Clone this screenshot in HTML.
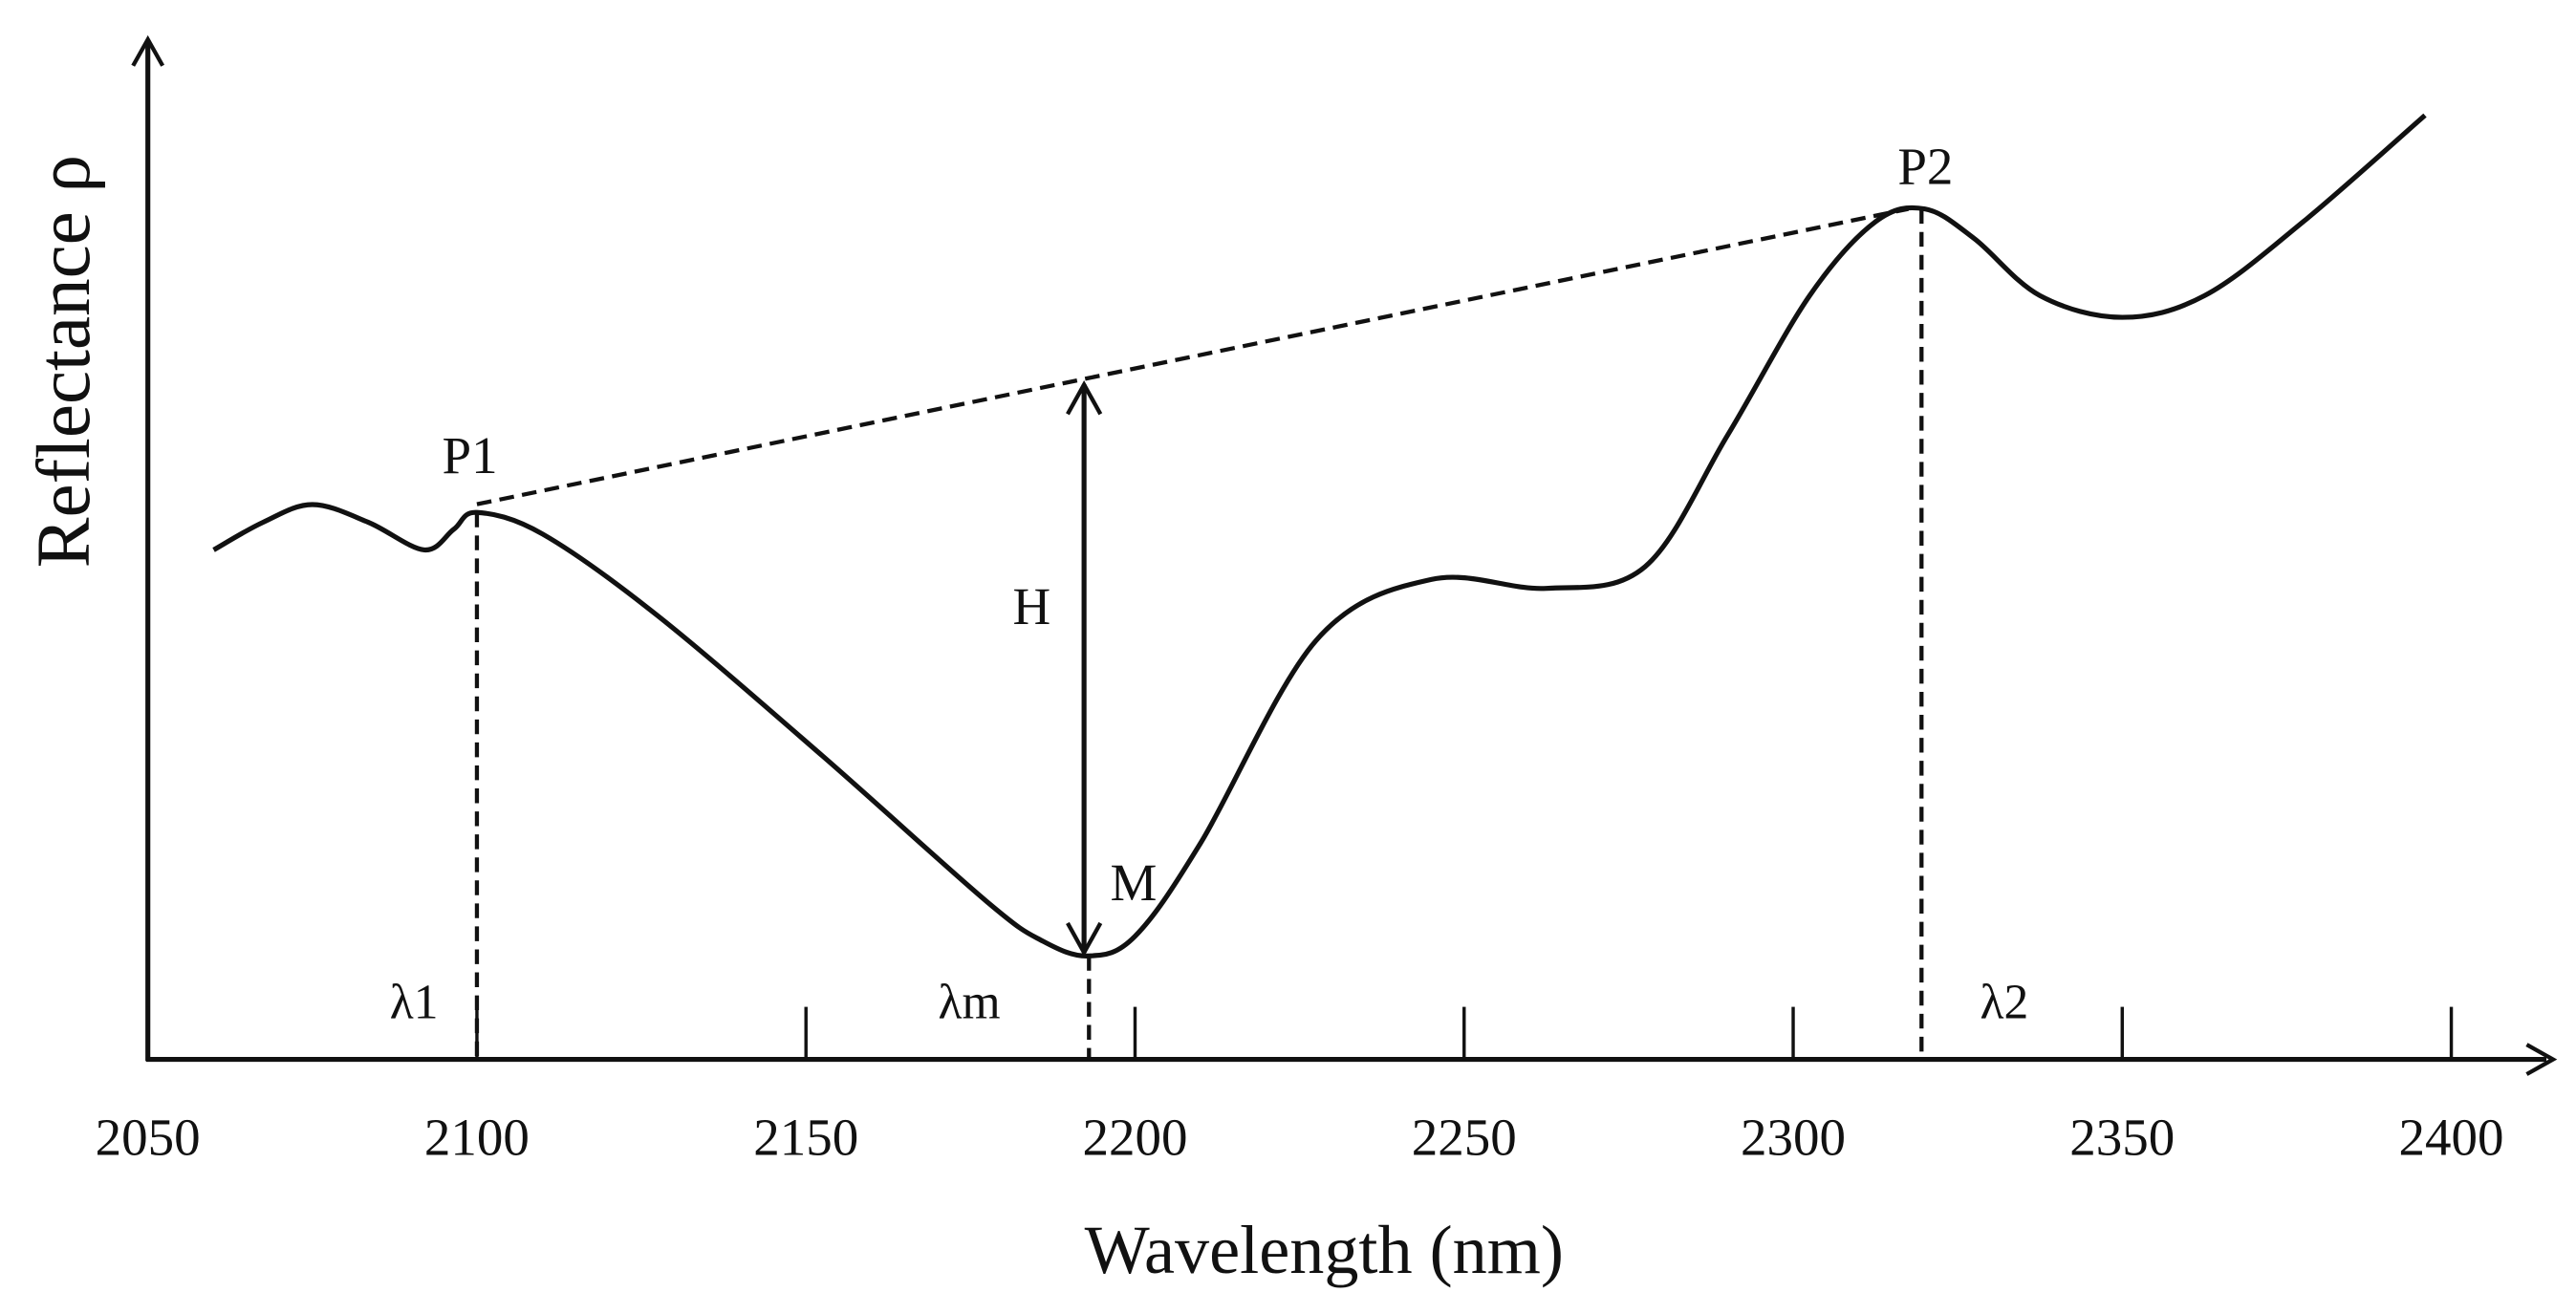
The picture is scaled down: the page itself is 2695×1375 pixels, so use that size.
<!DOCTYPE html>
<html><head><meta charset="utf-8"><style>
html,body{margin:0;padding:0;background:#fff;}
svg{display:block;}
text{font-family:"Liberation Serif",serif;fill:#111;}
</style></head><body>
<svg id="chart" width="2695" height="1375" viewBox="0 0 1568 800" xmlns="http://www.w3.org/2000/svg">
<g id="axes">
<line x1="90" y1="646" x2="90" y2="26" stroke="#111" stroke-width="3"/>
<polyline points="81,40 90,24 99,40" fill="none" stroke="#111" stroke-width="2.5"/>
<line x1="89" y1="645" x2="1550" y2="645" stroke="#111" stroke-width="3"/>
<polyline points="1538,636 1554,645 1538,654" fill="none" stroke="#111" stroke-width="2.5"/>
</g>
<g id="ticks"></g>
<text x="806" y="775" font-size="42" text-anchor="middle">Wavelength (nm)</text>
<text transform="translate(54,220) rotate(-90)" font-size="46" text-anchor="middle">Reflectance ρ</text>
<g id="marks"></g>
<g id="labels">
<text x="286" y="288" font-size="32" text-anchor="middle">P1</text>
<text x="1172" y="112" font-size="32" text-anchor="middle">P2</text>
<text x="628" y="380" font-size="32" text-anchor="middle">H</text>
<text x="690" y="548" font-size="32" text-anchor="middle">M</text>
<text x="252" y="620" font-size="30" text-anchor="middle">λ1</text>
<text x="590" y="620" font-size="30" text-anchor="middle">λm</text>
<text x="1220" y="620" font-size="30" text-anchor="middle">λ2</text>
</g>
</svg>
<script>
const tickValues = [2050, 2100, 2150, 2200, 2250, 2300, 2350, 2400];
const tickLabels = ["2050", "2100", "2150", "2200", "2250", "2300", "2350", "2400"];
const wavelengths = [2060, 2067.5, 2075, 2083.5, 2092, 2096.5, 2100, 2110, 2127.5, 2152.5, 2177.5, 2186, 2193, 2200, 2210, 2227.5, 2245, 2262.5, 2277.5, 2290, 2302.5, 2312.5, 2320, 2327.5, 2337.5, 2350, 2362.5, 2377.5, 2396];
const reflectance = [0.517, 0.545, 0.563, 0.545, 0.517, 0.538, 0.555, 0.533, 0.45, 0.308, 0.16, 0.12, 0.105, 0.125, 0.22, 0.425, 0.487, 0.478, 0.5, 0.633, 0.775, 0.85, 0.863, 0.833, 0.775, 0.753, 0.775, 0.85, 0.958];
const keyNames = ["P1", "M", "P2"];
const keyWavelengths = [2100, 2193, 2320];
const keyReflectance = [0.555, 0.105, 0.863];

const NS = "http://www.w3.org/2000/svg";
function xs(v){ return 90 + (v - 2050) * 4.006; }
function ys(r){ return 645 - r * 600; }
function mk(tag, attrs, parent){
  const e = document.createElementNS(NS, tag);
  for (const k in attrs) e.setAttribute(k, attrs[k]);
  parent.appendChild(e);
  return e;
}
const ticks = document.getElementById('ticks');
tickValues.forEach((v, i) => {
  const t = mk('line', {x1: xs(v), x2: xs(v), y1: 645, y2: 613, stroke: '#111', 'stroke-width': 2}, ticks);
  
  
  const l = mk('text', {x: xs(v), y: 703, 'font-size': 32, 'text-anchor': 'middle'}, ticks);
  l.textContent = tickLabels[i];
  
  
});
const marks = document.getElementById('marks');
const pts = wavelengths.map((w, i) => [xs(w), ys(reflectance[i])]);
let d = `M${pts[0][0]},${pts[0][1]}`;
for (let i = 0; i < pts.length - 1; i++) {
  const p0 = pts[Math.max(0, i - 1)], p1 = pts[i], p2 = pts[i + 1], p3 = pts[Math.min(pts.length - 1, i + 2)];
  const c1 = [p1[0] + (p2[0] - p0[0]) / 6, p1[1] + (p2[1] - p0[1]) / 6];
  const c2 = [p2[0] - (p3[0] - p1[0]) / 6, p2[1] - (p3[1] - p1[1]) / 6];
  d += ` C${c1[0]},${c1[1]} ${c2[0]},${c2[1]} ${p2[0]},${p2[1]}`;
}
const curve = mk('path', {d: d, fill: 'none', stroke: '#111', 'stroke-width': 3, 'stroke-linejoin': 'round'}, marks);



const p1x = xs(keyWavelengths[0]), p1y = ys(keyReflectance[0]);
const p2x = xs(keyWavelengths[2]), p2y = ys(keyReflectance[2]);
const mx = xs(keyWavelengths[1]), my = ys(keyReflectance[1]);
const hull = mk('line', {x1: p1x, y1: p1y - 5, x2: p2x - 10, y2: p2y, stroke: '#111', 'stroke-width': 2.5, 'stroke-dasharray': '9,5'}, marks);


[[p1x, p1y, 'lambda1-dropline'], [mx, my, 'lambdam-dropline'], [p2x - 2, p2y, 'lambda2-dropline']].forEach(a => {
  const v = mk('line', {x1: a[0], y1: a[1], x2: a[0], y2: 645, stroke: '#111', 'stroke-width': 2.5, 'stroke-dasharray': '9,5'}, marks);
  
  
});
const t = (mx - p1x) / (p2x - 10 - p1x);
const topY = (p1y - 5) + t * (p2y - (p1y - 5)) + 4;
const hx = mx - 3;
const h = mk('line', {x1: hx, y1: topY, x2: hx, y2: my - 2, stroke: '#111', 'stroke-width': 3}, marks);


const ha = mk('polyline', {points: `${hx-10},${topY+18} ${hx},${topY} ${hx+10},${topY+18}`, fill: 'none', stroke: '#111', 'stroke-width': 2.5}, marks);


const hb = mk('polyline', {points: `${hx-10},${my-20} ${hx},${my-2} ${hx+10},${my-20}`, fill: 'none', stroke: '#111', 'stroke-width': 2.5}, marks);


</script>
</body></html>
